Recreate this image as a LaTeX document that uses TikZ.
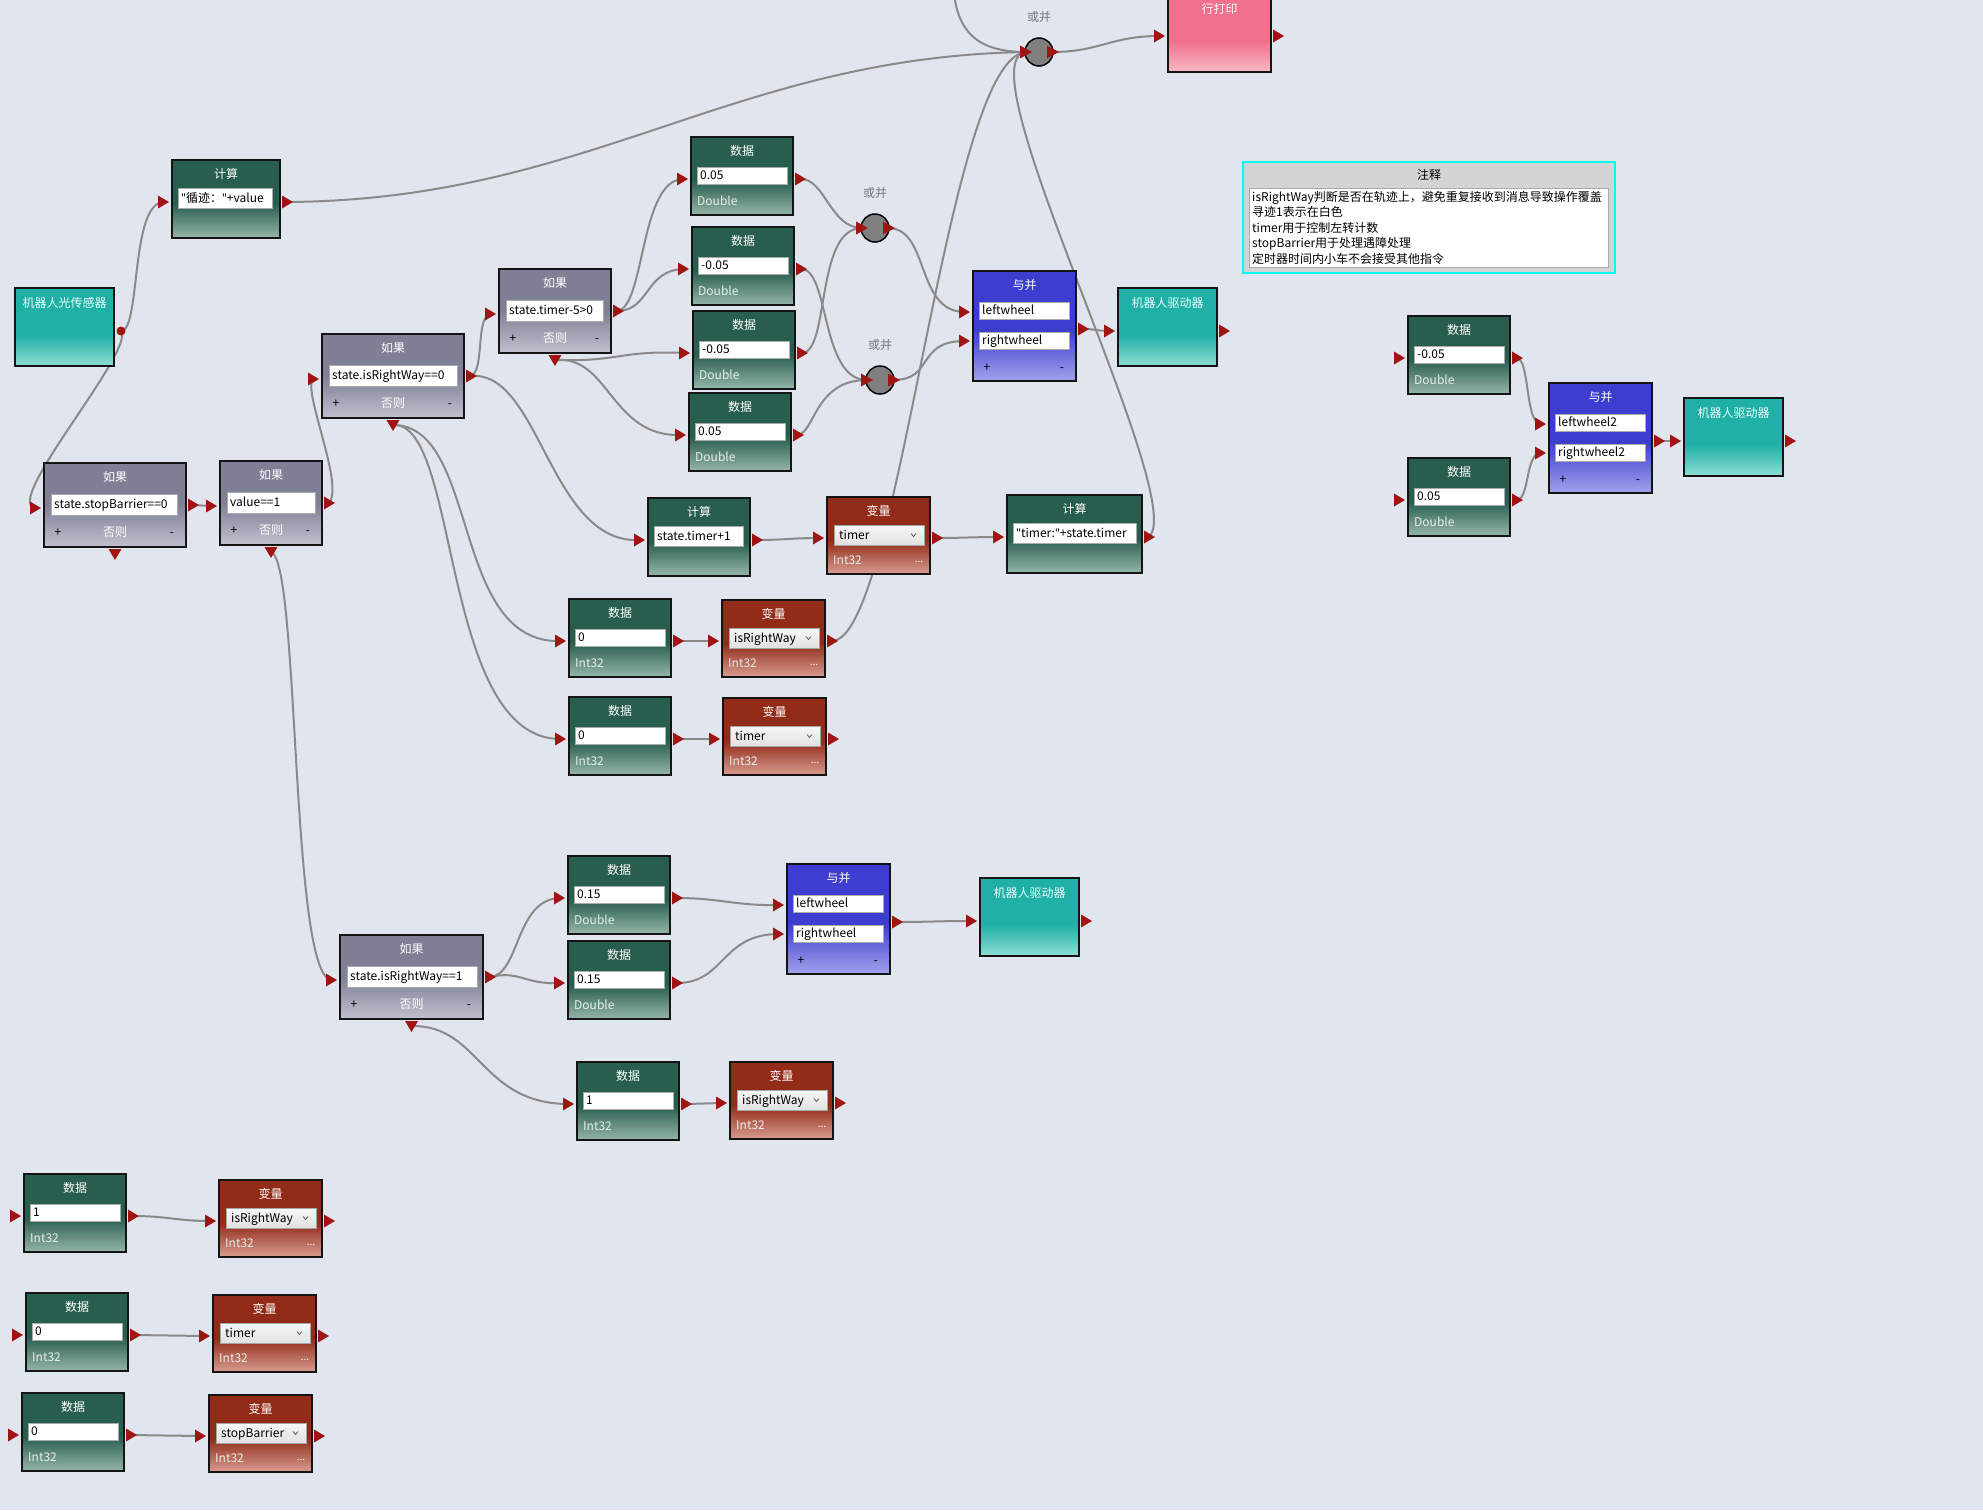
\documentclass[tikz,border=0pt]{standalone}
\usepackage{fontspec}
\setmainfont{Noto Sans CJK SC}
\newfontfamily\qfont{Noto Sans}
\usetikzlibrary{calc}

% straight double quote taken from a Latin face
\newcommand\dq{{\qfont"}}

% palette
\definecolor{bgc}{RGB}{224,229,238}
\definecolor{boxline}{RGB}{20,20,20}
\definecolor{gDk}{RGB}{40,94,78}
\definecolor{gLt}{RGB}{150,182,170}
\definecolor{rDk}{RGB}{146,43,24}
\definecolor{rLt}{RGB}{216,156,144}
\definecolor{iDk}{RGB}{127,128,150}
\definecolor{iLt}{RGB}{192,192,207}
\definecolor{bDk}{RGB}{61,61,208}
\definecolor{bLt}{RGB}{162,162,236}
\definecolor{tDk}{RGB}{32,176,166}
\definecolor{tLt}{RGB}{144,222,213}
\definecolor{pDk}{RGB}{240,112,141}
\definecolor{pLt}{RGB}{248,184,198}
\definecolor{cTop}{RGB}{247,247,247}
\definecolor{cBot}{RGB}{225,225,225}
\definecolor{fieldline}{RGB}{170,170,170}
\definecolor{comboline}{RGB}{165,165,165}
\definecolor{chevc}{RGB}{90,90,90}
\definecolor{typc}{RGB}{230,238,234}
\definecolor{arrc}{RGB}{160,20,20}
\definecolor{wirec}{RGB}{138,138,138}
\definecolor{orfill}{RGB}{128,128,128}
\definecolor{orlab}{RGB}{120,120,120}
\definecolor{tealtxt}{RGB}{230,255,252}
\definecolor{noteg}{RGB}{212,212,212}
\definecolor{cyanb}{RGB}{0,250,250}

% vertical fills: solid colour on top, fading towards the bottom edge
\pgfdeclareverticalshading{shGreen}{100bp}{color(0bp)=(gLt); color(25bp)=(gLt); color(47bp)=(gDk); color(100bp)=(gDk)}
\pgfdeclareverticalshading{shRed}{100bp}{color(0bp)=(rLt); color(25bp)=(rLt); color(47bp)=(rDk); color(100bp)=(rDk)}
\pgfdeclareverticalshading{shIf}{100bp}{color(0bp)=(iLt); color(25bp)=(iLt); color(50bp)=(iDk); color(100bp)=(iDk)}
\pgfdeclareverticalshading{shBlue}{100bp}{color(0bp)=(bLt); color(25bp)=(bLt); color(48bp)=(bDk); color(100bp)=(bDk)}
\pgfdeclareverticalshading{shTeal}{100bp}{color(0bp)=(tLt); color(25bp)=(tLt); color(45bp)=(tDk); color(100bp)=(tDk)}
\pgfdeclareverticalshading{shPink}{100bp}{color(0bp)=(pLt); color(25bp)=(pLt); color(45bp)=(pDk); color(100bp)=(pDk)}

\pgfdeclarelayer{back}
\pgfdeclarelayer{bg}
\pgfdeclarelayer{fg}
\pgfsetlayers{back,bg,main,fg}

\newcommand\fsz{\fontsize{12}{14}\selectfont}

\tikzset{
  boxnode/.style={draw=boxline, line width=2pt, anchor=north west, inner sep=0pt, outer sep=0pt, shade},
  ttl/.style={text=white, inner sep=0pt, font=\fsz, text height=10pt, text depth=2pt},
  tttl/.style={ttl, text=tealtxt},
  fieldnode/.style={draw=fieldline, line width=0.8pt, fill=white, inner sep=0pt, outer sep=0pt, anchor=north west},
  combonode/.style={draw=comboline, line width=0.8pt, top color=cTop, bottom color=cBot, inner sep=0pt, outer sep=0pt, anchor=north west},
  fieldtxt/.style={text=black, inner sep=0pt, font=\fsz, text height=10pt, text depth=2pt, anchor=west},
  typ/.style={text=typc, inner sep=0pt, font=\fsz, text height=10pt, text depth=2pt, anchor=west},
  pm/.style={text=black, inner sep=0pt, font=\fsz, text height=10pt, text depth=2pt},
  dotsn/.style={text=white, inner sep=0pt, font=\fontsize{10}{10}\selectfont},
  arr/.style={fill=arrc},
  wire/.style={draw=wirec, line width=2pt},
  chev/.style={draw=chevc, line width=0.8pt},
  orc/.style={circle, minimum size=28pt, inner sep=0pt, outer sep=0pt, fill=orfill, draw=black, line width=1.5pt},
  orl/.style={text=orlab, inner sep=0pt, font=\fsz, text height=10pt, text depth=2pt},
  notetxt/.style={text=black, inner sep=0pt, font=\fsz, anchor=west, text height=10pt, text depth=2pt},
}

% input port: arrow left of the box, #3 = wire end
\newcommand\mkin[3]{%
  \coordinate (#3) at ($(#1.north west)+(-8,#2)$);
  \begin{pgfonlayer}{fg}
    \fill[arr] ($(#1.north west)+(-14,#2-6.5)$) -- ($(#1.north west)+(-3,#2)$) -- ($(#1.north west)+(-14,#2+6.5)$) -- cycle;
  \end{pgfonlayer}}
% output port: arrow right of the box, #3 = wire start
\newcommand\mkout[3]{%
  \coordinate (#3) at ($(#1.north east)+(7,#2)$);
  \begin{pgfonlayer}{fg}
    \fill[arr] ($(#1.north east)+(2,#2-6.5)$) -- ($(#1.north east)+(13,#2)$) -- ($(#1.north east)+(2,#2+6.5)$) -- cycle;
  \end{pgfonlayer}}
% "else" port under a condition box
\newcommand\mkbottom[2]{%
  \coordinate (#2) at ($(#1.south)+(0,7)$);
  \begin{pgfonlayer}{fg}
    \fill[arr] ($(#1.south)+(-6.5,2)$) -- ($(#1.south)+(6.5,2)$) -- ($(#1.south)+(0,13)$) -- cycle;
  \end{pgfonlayer}}
% white text field
\newcommand\mkfield[7]{%
  \node[fieldnode, minimum width=#5pt, minimum height=#6pt] (#1) at ($(#2.north west)+(#3,#4)$) {};
  \node[fieldtxt] (#1-x) at ($(#1.west)+(3,0)$) {#7};}

% data block
\newcommand\mkdata[5]{%
  \node[boxnode, shading=shGreen, minimum width=102pt, minimum height=78pt] (#1) at (#2,#3) {};
  \node[ttl] (#1-t) at ($(#1.north)+(0,14)$) {数据};
  \mkfield{#1-f}{#1}{6}{30}{90}{17}{#4}
  \node[typ] (#1-y) at ($(#1.north west)+(6,64)$) {#5};
  \mkin{#1}{42}{#1-i}
  \mkout{#1}{42}{#1-o}}

% variable block
\newcommand\mkvar[4]{%
  \node[boxnode, shading=shRed, minimum width=103pt, minimum height=77pt] (#1) at (#2,#3) {};
  \node[ttl] (#1-t) at ($(#1.north)+(0,14)$) {变量};
  \node[combonode, minimum width=90pt, minimum height=20pt] (#1-c) at ($(#1.north west)+(7,28)$) {};
  \node[fieldtxt] (#1-x) at ($(#1-c.west)+(5,0)$) {#4};
  \draw[chev] ($(#1-c.east)+(-13,-1.5)$) -- ++(2.5,3) -- ++(2.5,-3);
  \node[typ] (#1-y) at ($(#1.north west)+(6,63)$) {Int32};
  \node[dotsn] (#1-d) at ($(#1.north east)+(-11,65)$) {...};
  \mkin{#1}{41}{#1-i}
  \mkout{#1}{41}{#1-o}}

% calculation block
\newcommand\mkcalc[6]{%
  \node[boxnode, shading=shGreen, minimum width=#4pt, minimum height=78pt] (#1) at (#2,#3) {};
  \node[ttl] (#1-t) at ($(#1.north)+(0,14)$) {计算};
  \mkfield{#1-f}{#1}{6}{28}{#5}{20}{#6}
  \mkin{#1}{42}{#1-i}
  \mkout{#1}{42}{#1-o}}

% condition block
\newcommand\mkif[6]{%
  \node[boxnode, shading=shIf, minimum width=#4pt, minimum height=84pt] (#1) at (#2,#3) {};
  \node[ttl] (#1-t) at ($(#1.north)+(0,14)$) {如果};
  \mkfield{#1-f}{#1}{7}{31}{#5}{21}{#6}
  \node[pm] (#1-p) at ($(#1.north west)+(14,69)$) {+};
  \node[ttl] (#1-e) at ($(#1.north)+(0,69)$) {否则};
  \node[pm] (#1-m) at ($(#1.north east)+(-14,69)$) {-};
  \mkin{#1}{45}{#1-i}
  \mkout{#1}{42}{#1-o}
  \mkbottom{#1}{#1-b}}

% and-merge block
\newcommand\mkand[5]{%
  \node[boxnode, shading=shBlue, minimum width=103pt, minimum height=110pt] (#1) at (#2,#3) {};
  \node[ttl] (#1-t) at ($(#1.north)+(0,14)$) {与并};
  \mkfield{#1-f}{#1}{6}{31}{90}{17}{#4}
  \mkfield{#1-g}{#1}{6}{61}{90}{17}{#5}
  \node[pm] (#1-p) at ($(#1.north west)+(14,96)$) {+};
  \node[pm] (#1-m) at ($(#1.north east)+(-14,96)$) {-};
  \mkin{#1}{41}{#1-i1}
  \mkin{#1}{70}{#1-i2}
  \mkout{#1}{58}{#1-o}}

% robot device block
\newcommand\mkteal[4]{%
  \node[boxnode, shading=shTeal, minimum width=99pt, minimum height=78pt] (#1) at (#2,#3) {};
  \node[tttl] (#1-t) at ($(#1.north)+(0,15)$) {#4};}

% or-merge junction
\newcommand\mkor[3]{%
  \node[orc] (#1) at (#2,#3) {};
  \node[orl] (#1-l) at ($(#1)+(0,-35)$) {或并};
  \coordinate (#1-i) at ($(#1)+(-13,0)$);
  \coordinate (#1-o) at ($(#1)+(13,0)$);
  \begin{pgfonlayer}{fg}
    \fill[arr] ($(#1)+(-19,-6.5)$) -- ($(#1)+(-7,0)$) -- ($(#1)+(-19,6.5)$) -- cycle;
    \fill[arr] ($(#1)+(8,-6.5)$) -- ($(#1)+(20,0)$) -- ($(#1)+(8,6.5)$) -- cycle;
  \end{pgfonlayer}}

\begin{document}
\begin{tikzpicture}[x=1pt,y=-1pt]
\begin{pgfonlayer}{back}
  \fill[bgc] (0,0) rectangle (1983,1510);
\end{pgfonlayer}
\useasboundingbox (0,0) rectangle (1983,1510);

% ---- blocks ----
\mkteal{sensor}{15}{288}{机器人光传感器}
\coordinate (sensor-o) at ($(sensor.north east)+(7,43)$);
\begin{pgfonlayer}{fg}\fill[arrc] (sensor-o) circle (4.5);\end{pgfonlayer}

\mkcalc{calcV}{172}{160}{108}{94}{\dq{}循迹：\dq{}+value}
\mkif{ifS}{44}{463}{142}{126}{state.stopBarrier==0}
\mkif{ifV}{220}{461}{102}{88}{value==1}
\mkif{ifRa}{322}{334}{142}{128}{state.isRightWay==0}
\mkif{ifT}{499}{269}{112}{97}{state.timer-5>0}
\mkif{ifRb}{340}{935}{143}{130}{state.isRightWay==1}

\mkdata{dA}{691}{137}{0.05}{Double}
\mkdata{dB}{692}{227}{-0.05}{Double}
\mkdata{dC}{693}{311}{-0.05}{Double}
\mkdata{dD}{689}{393}{0.05}{Double}
\mkdata{dRa}{1408}{316}{-0.05}{Double}
\mkdata{dRb}{1408}{458}{0.05}{Double}
\mkdata{dZa}{569}{599}{0}{Int32}
\mkdata{dZb}{569}{697}{0}{Int32}
\mkdata{dQa}{568}{856}{0.15}{Double}
\mkdata{dQb}{568}{941}{0.15}{Double}
\mkdata{dOne}{577}{1062}{1}{Int32}
\mkdata{dLa}{24}{1174}{1}{Int32}
\mkdata{dLb}{26}{1293}{0}{Int32}
\mkdata{dLc}{22}{1393}{0}{Int32}

\mkcalc{calcT}{648}{498}{102}{89}{state.timer+1}
\mkcalc{calcS}{1007}{495}{135}{123}{\dq{}timer:\dq{}+state.timer}

\mkvar{vTa}{827}{497}{timer}
\mkvar{vIa}{722}{600}{isRightWay}
\mkvar{vTb}{723}{698}{timer}
\mkvar{vIb}{730}{1062}{isRightWay}
\mkvar{vLa}{219}{1180}{isRightWay}
\mkvar{vLb}{213}{1295}{timer}
\mkvar{vLc}{209}{1395}{stopBarrier}

\mkand{andA}{973}{271}{leftwheel}{rightwheel}
\mkand{andB}{1549}{383}{leftwheel2}{rightwheel2}
\mkand{andC}{787}{864}{leftwheel}{rightwheel}

\mkteal{drvA}{1118}{288}{机器人驱动器}
\mkin{drvA}{43}{drvA-i}\mkout{drvA}{43}{drvA-o}
\mkteal{drvB}{1684}{398}{机器人驱动器}
\mkin{drvB}{43}{drvB-i}\mkout{drvB}{43}{drvB-o}
\mkteal{drvC}{980}{878}{机器人驱动器}
\mkin{drvC}{43}{drvC-i}\mkout{drvC}{43}{drvC-o}

\node[boxnode, shading=shPink, minimum width=103pt, minimum height=78pt] (print) at (1168,-6) {};
\node[ttl] (print-t) at ($(print.north)+(0,15)$) {行打印};
\mkin{print}{42}{print-i}\mkout{print}{42}{print-o}

\mkor{orT}{1039}{52}
\mkor{orM}{875}{228}
\mkor{orL}{880}{380}
\coordinate (feed) at (953,-25);

% ---- comment panel ----
\node[draw=cyanb, line width=2pt, fill=noteg, minimum width=372pt, minimum height=111pt, anchor=north west, inner sep=0pt, outer sep=0pt] (note) at (1243,162) {};
\node[pm] (note-t) at ($(note.north)+(0,13)$) {注释};
\node[fieldnode, minimum width=359pt, minimum height=79pt] (note-b) at ($(note.north west)+(6,26)$) {};
\node[notetxt] (note-l1) at ($(note-b.north west)+(3,9)$) {isRightWay判断是否在轨迹上，避免重复接收到消息导致操作覆盖};
\node[notetxt] (note-l2) at ($(note-b.north west)+(3,24.5)$) {寻迹1表示在白色};
\node[notetxt] (note-l3) at ($(note-b.north west)+(3,40)$) {timer用于控制左转计数};
\node[notetxt] (note-l4) at ($(note-b.north west)+(3,55.5)$) {stopBarrier用于处理遇障处理};
\node[notetxt] (note-l5) at ($(note-b.north west)+(3,71)$) {定时器时间内小车不会接受其他指令};

% ---- wires ----
\begin{pgfonlayer}{bg}
\draw[wire] (sensor-o) .. controls +(20,0) and +(-34,0) .. (calcV-i);
\draw[wire] (sensor-o) .. controls +(15,19) and +(-36,-3) .. (ifS-i);
\draw[wire] (calcV-o) .. controls +(303,-2) and +(-296,5) .. (orT-i);
\draw[wire] (ifS-o) -- (ifV-i);
\draw[wire] (ifV-o) .. controls +(16,-18) and +(-14,6) .. (ifRa-i);
\draw[wire] (ifV-b) .. controls +(29,8) and +(-42,0) .. (ifRb-i);
\draw[wire] (ifRa-o) .. controls +(14,-6) and +(-16,2) .. (ifT-i);
\draw[wire] (ifRa-o) .. controls +(69,-6) and +(-90,5) .. (calcT-i);
\draw[wire] (ifRa-b) .. controls +(87,0) and +(-111,4) .. (dZa-i);
\draw[wire] (ifRa-b) .. controls +(67,-5) and +(-121,1) .. (dZb-i);
\draw[wire] (ifT-o) .. controls +(27,-6) and +(-43,1) .. (dA-i);
\draw[wire] (ifT-o) .. controls +(32,-1) and +(-39,1) .. (dB-i);
\draw[wire] (ifT-b) .. controls +(65,2) and +(-65,-3) .. (dC-i);
\draw[wire] (ifT-b) .. controls +(55,-5) and +(-71,2) .. (dD-i);
\draw[wire] (dA-o) .. controls +(25,-1) and +(-32,0) .. (orM-i);
\draw[wire] (dC-o) .. controls +(28,-1) and +(-47,0) .. (orM-i);
\draw[wire] (dB-o) .. controls +(29,0) and +(-47,0) .. (orL-i);
\draw[wire] (dD-o) .. controls +(17,-3) and +(-52,0) .. (orL-i);
\draw[wire] (orM-o) .. controls +(42,0) and +(-50,0) .. (andA-i1);
\draw[wire] (orL-o) .. controls +(42,0) and +(-50,0) .. (andA-i2);
\draw[wire] (andA-o) .. controls +(12,0) and +(-12,0) .. (drvA-i);
\draw[wire] (calcT-o) .. controls +(25,0) and +(-25,0) .. (vTa-i);
\draw[wire] (vTa-o) .. controls +(25,0) and +(-25,0) .. (calcS-i);
\draw[wire] (calcS-o) .. controls +(41,-38) and +(-66,8) .. (orT-i);
\draw[wire] (vIa-o) .. controls +(68,-1) and +(-81,6) .. (orT-i);
\draw[wire] (feed) .. controls +(0,55) and +(-51,0) .. (orT-i);
\draw[wire] (orT-o) .. controls +(48,0) and +(-50,0) .. (print-i);
\draw[wire] (ifRb-o) .. controls +(30,-2) and +(-45,1) .. (dQa-i);
\draw[wire] (ifRb-o) .. controls +(30,-7) and +(-35,2) .. (dQb-i);
\draw[wire] (dQa-o) .. controls +(43,0) and +(-43,1) .. (andC-i1);
\draw[wire] (dQb-o) .. controls +(48,0) and +(-58,0) .. (andC-i2);
\draw[wire] (andC-o) .. controls +(33,0) and +(-37,0) .. (drvC-i);
\draw[wire] (ifRb-b) .. controls +(69,-1) and +(-89,0) .. (dOne-i);
\draw[wire] (dOne-o) -- (vIb-i);
\draw[wire] (dZa-o) -- (vIa-i);
\draw[wire] (dZb-o) -- (vTb-i);
\draw[wire] (dLa-o) .. controls +(35,0) and +(-35,0) .. (vLa-i);
\draw[wire] (dLb-o) .. controls +(35,0) and +(-35,0) .. (vLb-i);
\draw[wire] (dLc-o) .. controls +(35,0) and +(-35,0) .. (vLc-i);
\draw[wire] (dRa-o) .. controls +(13,2) and +(-16,0) .. (andB-i1);
\draw[wire] (dRb-o) .. controls +(13,-2) and +(-16,0) .. (andB-i2);
\draw[wire] (andB-o) .. controls +(8,0) and +(-8,0) .. (drvB-i);
\end{pgfonlayer}
\end{tikzpicture}
\end{document}
